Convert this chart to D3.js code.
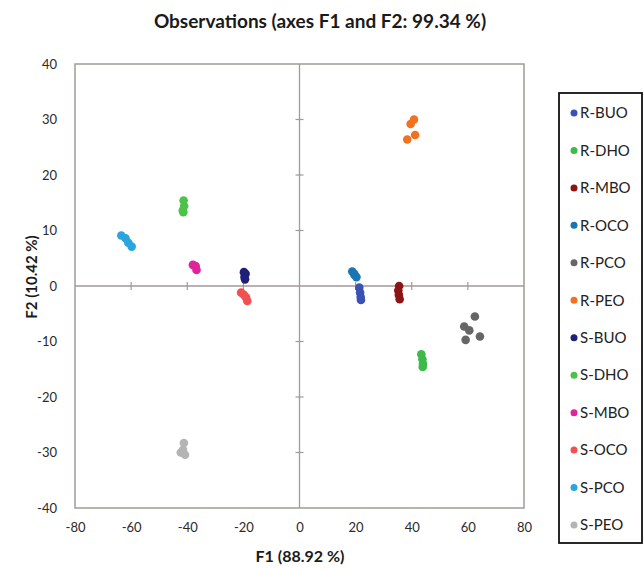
<!DOCTYPE html>
<html><head><meta charset="utf-8">
<script src="https://cdn.jsdelivr.net/npm/d3@7"></script>
<style>body{margin:0;background:#fff;}svg{display:block;font-family:Lato,"Open Sans",sans-serif;}</style>
</head><body><svg id="c" width="644" height="569"></svg>
<script>
const seriesNames = ["R-BUO","R-DHO","R-MBO","R-OCO","R-PCO","R-PEO","S-BUO","S-DHO","S-MBO","S-OCO","S-PCO","S-PEO"];
const seriesColors = ["#3b52b4","#3dba48","#8c1414","#1b75b2","#666666","#f07220","#1f1f78","#4cc24a","#e0249c","#f05050","#2aa5dd","#b4b4b4"];
const xValues = [
  [21.3,21.6,21.8,21.9],
  [43.4,43.8,44.0,43.9],
  [35.5,35.2,35.4,35.7],
  [18.8,19.6,20.3,19.5],
  [62.5,58.7,60.5,59.2,64.3],
  [40.8,39.6,41.2,38.4],
  [-19.8,-19.2,-19.6,-19.4],
  [-41.3,-41.1,-41.6,-41.4],
  [-38.0,-37.0,-36.7],
  [-20.8,-19.8,-19.0,-18.6],
  [-63.5,-62.0,-61.0,-59.8],
  [-41.2,-42.3,-40.8,-41.5]
];
const yValues = [
  [-0.3,-1.2,-2.0,-2.5],
  [-12.3,-13.2,-14.0,-14.6],
  [0.0,-0.8,-1.6,-2.4],
  [2.6,2.0,1.6,2.2],
  [-5.5,-7.3,-8.0,-9.7,-9.1],
  [30.0,29.2,27.2,26.4],
  [2.5,2.2,1.6,1.2],
  [15.4,14.4,13.6,13.3],
  [3.8,3.6,2.9],
  [-1.2,-1.6,-2.1,-2.7],
  [9.1,8.6,7.8,7.1],
  [-28.3,-30.0,-30.4,-29.5]
];
const xTicks = [-80,-60,-40,-20,0,20,40,60,80];
const yTicks = [-40,-30,-20,-10,0,10,20,30,40];
const titleText = "Observations (axes F1 and F2: 99.34 %)";
const xTitle = "F1 (88.92 %)";
const yTitle = "F2 (10.42 %)";

const svg = d3.select("#c");
const L=75,R=524,T=64,B=508;
const x = d3.scaleLinear().domain([-80,80]).range([L,R]);
const y = d3.scaleLinear().domain([-40,40]).range([B,T]);

svg.append("text").attr("x",320).attr("y",28).attr("text-anchor","middle")
  .attr("font-weight","bold").attr("font-size",19).attr("fill","#1a1a1a").text(titleText);

// frame
svg.append("rect").attr("x",L).attr("y",T).attr("width",R-L).attr("height",B-T)
  .attr("fill","none").attr("stroke","#a09a98").attr("stroke-width",1.5);

const fmt = d => String(d);
const xa = svg.append("g").attr("transform",`translate(0,${B})`)
  .call(d3.axisBottom(x).tickValues(xTicks).tickSize(0).tickPadding(15).tickFormat(fmt));
xa.select(".domain").remove();
xa.selectAll("text").attr("font-size",13).attr("fill","#2a2a2a").attr("font-family","Lato,'Open Sans',sans-serif");
const ya = svg.append("g").attr("transform",`translate(${L},0)`)
  .call(d3.axisLeft(y).tickValues(yTicks).tickSize(0).tickPadding(18).tickFormat(fmt));
ya.select(".domain").remove();
ya.selectAll("text").attr("font-size",13).attr("fill","#2a2a2a").attr("font-family","Lato,'Open Sans',sans-serif");

// zero axes through origin with crossing ticks
const gz = svg.append("g");
gz.append("line").attr("x1",L).attr("x2",R).attr("y1",y(0)).attr("y2",y(0)).attr("stroke","#a09a98").attr("stroke-width",1.3);
gz.append("line").attr("x1",x(0)).attr("x2",x(0)).attr("y1",T).attr("y2",B).attr("stroke","#a09a98").attr("stroke-width",1.3);
gz.selectAll(".xt").data(xTicks.filter(d=>d!==0 && Math.abs(d)!==80)).enter().append("line")
  .attr("x1",d=>x(d)).attr("x2",d=>x(d)).attr("y1",y(0)-4).attr("y2",y(0)+4).attr("stroke","#a09a98").attr("stroke-width",1.2);
gz.selectAll(".yt").data(yTicks.filter(d=>d!==0 && Math.abs(d)!==40)).enter().append("line")
  .attr("y1",d=>y(d)).attr("y2",d=>y(d)).attr("x1",x(0)-4).attr("x2",x(0)+4).attr("stroke","#a09a98").attr("stroke-width",1.2);

// axis titles
svg.append("text").attr("x",300).attr("y",562).attr("text-anchor","middle")
  .attr("font-weight","bold").attr("font-size",16).attr("fill","#1a1a1a").text(xTitle);
svg.append("text").attr("transform",`translate(37,277) rotate(-90)`).attr("text-anchor","middle")
  .attr("font-weight","bold").attr("font-size",15).attr("fill","#1a1a1a").text(yTitle);

// points
seriesNames.forEach((name,i)=>{
  svg.append("g").selectAll("circle").data(xValues[i].map((v,j)=>[v,yValues[i][j]])).enter()
    .append("circle").attr("cx",d=>x(d[0])).attr("cy",d=>y(d[1])).attr("r",4.3).attr("fill",seriesColors[i]);
});

// legend
const lg = svg.append("g");
lg.append("rect").attr("x",559).attr("y",93).attr("width",83).attr("height",450)
  .attr("fill","#fff").attr("stroke","#111").attr("stroke-width",1.8);
const ly = d3.scalePoint().domain(seriesNames).range([113,525]);
seriesNames.forEach((name,i)=>{
  lg.append("circle").attr("cx",574).attr("cy",ly(name)).attr("r",3.5).attr("fill",seriesColors[i]);
  lg.append("text").attr("x",580).attr("y",ly(name)).attr("dy","0.35em").attr("font-size",15).attr("fill","#222").text(name);
});
</script></body></html>
